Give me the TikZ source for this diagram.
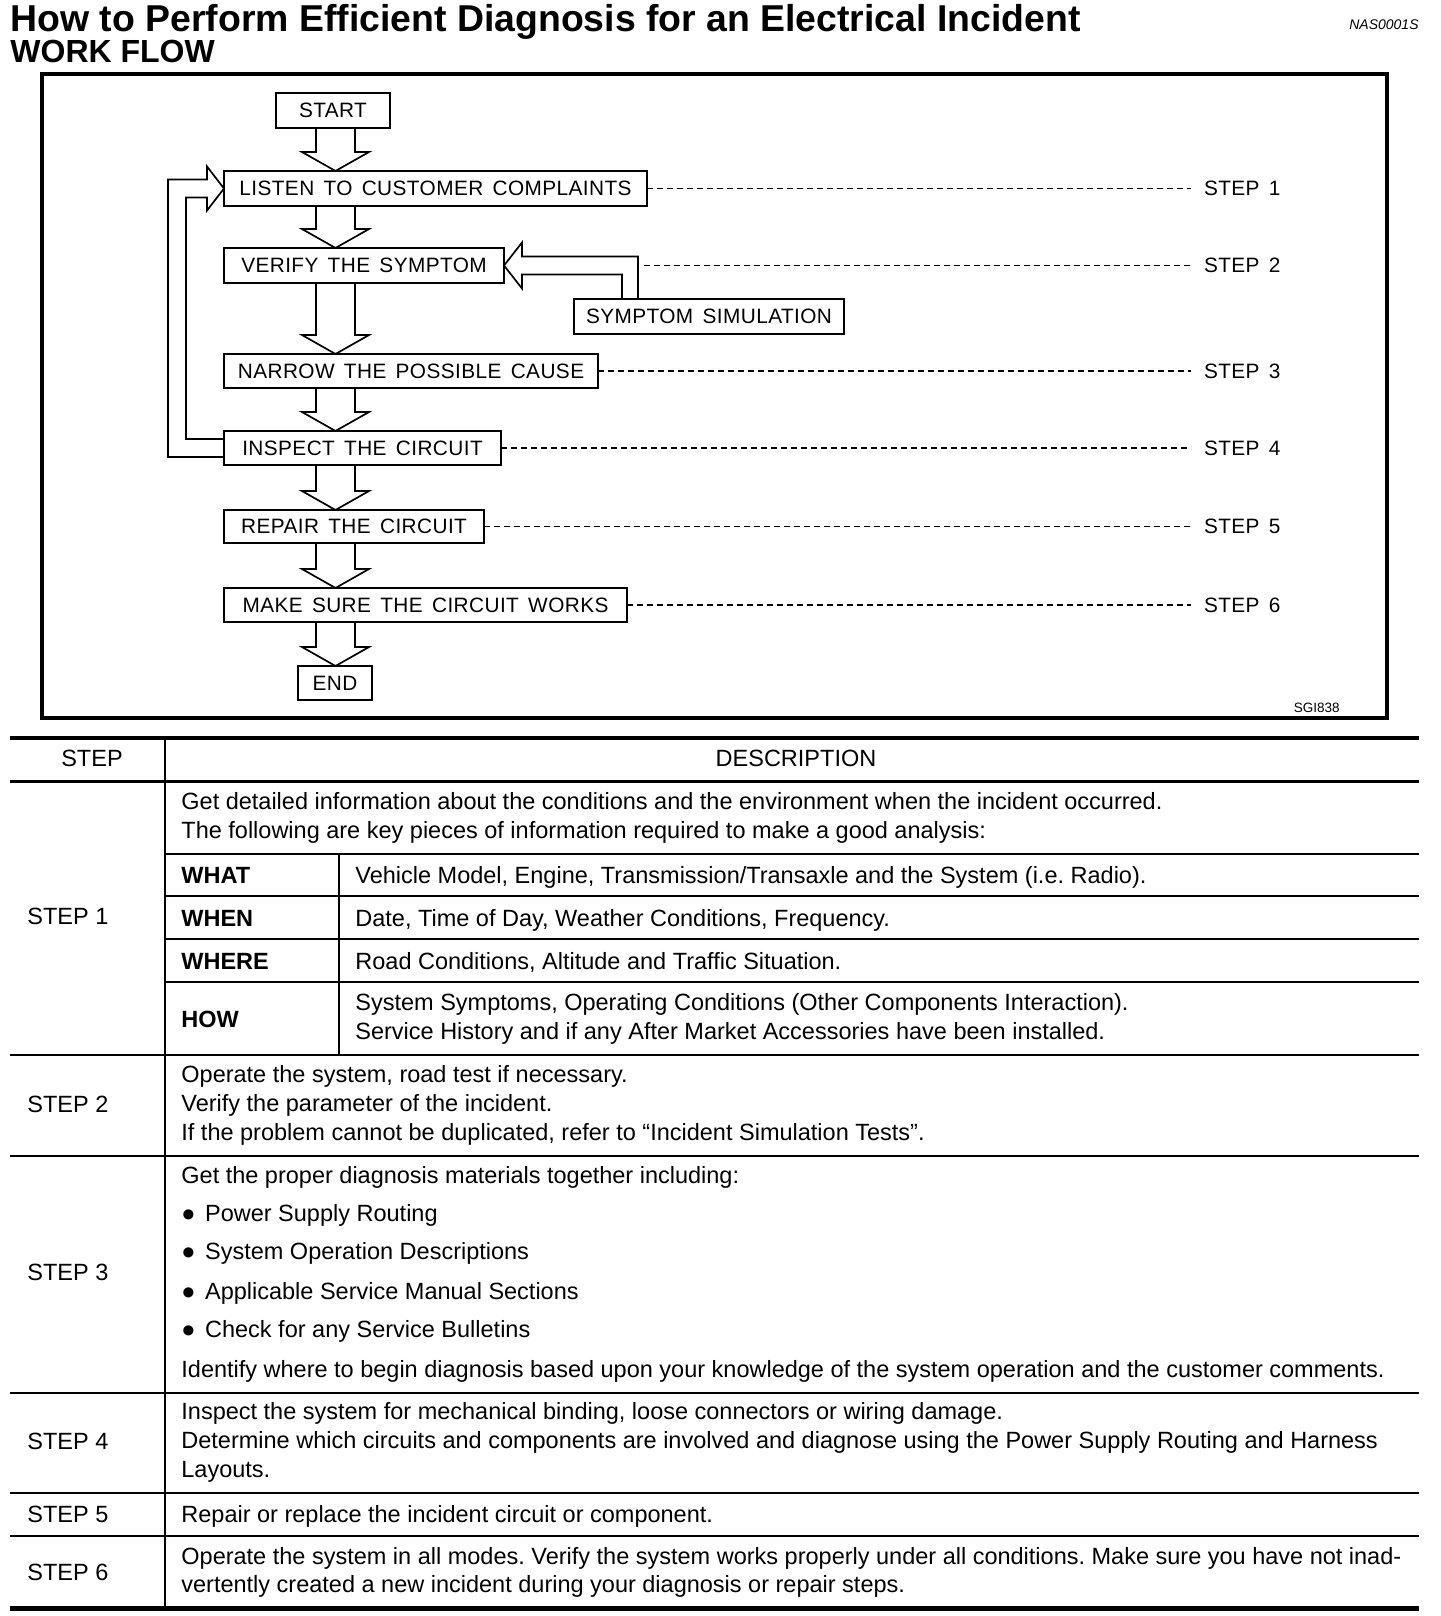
\documentclass[tikz,border=0pt]{standalone}
\usepackage{fontspec}
\setmainfont{Liberation Sans}
\newfontfamily\flowfont[LetterSpace=2,WordSpace=1.5]{Liberation Sans}
\usetikzlibrary{calc}
\frenchspacing
\tikzset{
  fbox/.style={draw, line width=1pt, rectangle, inner sep=0pt, outer sep=0pt, anchor=north west,
    font=\flowfont\fontsize{10.4pt}{12pt}\selectfont},
  flowline/.style={line width=0.85pt, line join=miter},
  steplbl/.style={anchor=west, inner sep=0pt, outer sep=0pt, font=\flowfont\fontsize{10.4pt}{12pt}\selectfont},
  dashline/.style={line width=0.7pt, dash pattern=on 3pt off 2pt, shorten >=6.5pt},
  tx/.style={anchor=base west, inner sep=0pt, font=\fontsize{11.75pt}{14pt}\selectfont},
  txb/.style={anchor=base west, inner sep=0pt, font=\bfseries\fontsize{11.75pt}{14pt}\selectfont},
  rule/.style={line width=1.25pt},
}
\newcommand\flowarrow[2]{%
  \draw[flowline] ($(ax |- #1.south)+(-19.5,0)$) -- ($(ax |- #2.north)+(-19.5,-19)$) -- ++(-14,0)
    -- (ax |- #2.north) -- ++(33.5,-19) -- ++(-14,0) -- ($(ax |- #1.south)+(19.5,0)$);}
\newcommand\bul{●\kern1.5pt\ }
\begin{document}
\frenchspacing
\begin{tikzpicture}[x=0.5pt,y=-0.5pt]
\useasboundingbox (0,0) rectangle (1440,1616);
\fill[white] (0,0) rectangle (1440,1616);

% headings
\node[anchor=base west, inner sep=0pt, font=\bfseries\fontsize{18.7pt}{22pt}\selectfont] (title) at (10,32) {How to Perform Efficient Diagnosis for an Electrical Incident};
\node[anchor=base west, inner sep=0pt, font=\bfseries\fontsize{16pt}{19pt}\selectfont] (wf) at (10,63) {WORK FLOW};
\node[anchor=base east, inner sep=0pt, font=\itshape\fontsize{7pt}{8pt}\selectfont] (nas) at (1419,30) {NAS0001S};

% frame
\draw[line width=2pt] (42,74) rectangle (1387,718);
\node[anchor=base east, inner sep=0pt, font=\fontsize{6.75pt}{8pt}\selectfont] (sgi) at (1340,712) {SGI838};

% flow boxes
\coordinate (ax) at (335.5,0);
\node[fbox, minimum width=57pt, minimum height=17.5pt] (start) at (276,93) {START};
\node[fbox, minimum width=211.5pt, minimum height=17.5pt] (listen) at (224,171) {LISTEN TO CUSTOMER COMPLAINTS};
\node[fbox, minimum width=140pt, minimum height=17.5pt] (verify) at (224,248) {VERIFY THE SYMPTOM};
\node[fbox, minimum width=135pt, minimum height=17.5pt] (symptom) at (574,299) {SYMPTOM SIMULATION};
\node[fbox, minimum width=187pt, minimum height=17pt] (narrow) at (224,354) {NARROW THE POSSIBLE CAUSE};
\node[fbox, minimum width=138.5pt, minimum height=17pt] (inspect) at (224,431) {INSPECT THE CIRCUIT};
\node[fbox, minimum width=130pt, minimum height=16.5pt] (repair) at (224,510) {REPAIR THE CIRCUIT};
\node[fbox, minimum width=201.5pt, minimum height=17pt] (make) at (224,588) {MAKE SURE THE CIRCUIT WORKS};
\node[fbox, minimum width=37pt, minimum height=17pt] (end) at (298,666) {END};

% block arrows
\flowarrow{start}{listen}
\flowarrow{listen}{verify}
\flowarrow{verify}{narrow}
\flowarrow{narrow}{inspect}
\flowarrow{inspect}{repair}
\flowarrow{repair}{make}
\flowarrow{make}{end}

% feedback loop inspect -> listen
\draw[flowline] ($(inspect.west)+(0,9)$) -- ++(-56,0) |- ($(listen.west)+(-17,-9)$) -- ++(0,-13)
  -- (listen.west) -- ++(-17,22) -- ++(0,-13) -| ($(inspect.west)+(-38,-9)$) -- ($(inspect.west)+(0,-9)$);

% symptom simulation -> verify
\coordinate (sxa) at (622,0);
\coordinate (sxb) at (638,0);
\draw[flowline] (sxa |- symptom.north) |- ($(verify.east)+(18,9)$) -- ++(0,14) -- (verify.east)
  -- ++(18,-23) -- ++(0,14) -| (sxb |- symptom.north);

% step labels and dashed leaders
\node[steplbl] (s1) at (1204,188.5) {STEP 1};
\node[steplbl] (s2) at (1204,265.5) {STEP 2};
\node[steplbl] (s3) at (1204,371) {STEP 3};
\node[steplbl] (s4) at (1204,448) {STEP 4};
\node[steplbl] (s5) at (1204,526.5) {STEP 5};
\node[steplbl] (s6) at (1204,605) {STEP 6};
\coordinate (d2start) at ($(sxb |- verify.east)+(6,0)$);
\draw[dashline] (listen.east) -- (s1.west);
\draw[dashline] (d2start) -- (s2.west);
\draw[dashline] (narrow.east) -- (s3.west);
\draw[dashline] (inspect.east) -- (s4.west);
\draw[dashline] (repair.east) -- (s5.west);
\draw[dashline] (make.east) -- (s6.west);

% table rules
\draw[line width=2pt] (10,738) -- (1419,738);
\draw[line width=1.5pt] (10,781) -- (1419,781);
\foreach \yy in {1055,1156,1393,1493,1536} \draw[rule] (10,\yy) -- (1419,\yy);
\draw[line width=2.5pt] (10,1608) -- (1419,1608);
\draw[line width=1pt] (165,738) -- (165,1608);
\draw[line width=1pt] (339,854) -- (339,1055);
\foreach \yy in {854,896,939,982} \draw[line width=1pt] (165,\yy) -- (1419,\yy);

% header
\node[anchor=base, inner sep=0pt, font=\fontsize{11.75pt}{14pt}\selectfont] (hstep) at (92,766.5) {STEP};
\node[anchor=base, inner sep=0pt, font=\fontsize{11.75pt}{14pt}\selectfont] (hdesc) at (796,766.5) {DESCRIPTION};

% step 1
\node[tx] (l1) at (27,924) {STEP 1};
\node[tx] (d1a) at (181,809) {Get detailed information about the conditions and the environment when the incident occurred.};
\node[tx] (d1b) at (181,838) {The following are key pieces of information required to make a good analysis:};
\node[txb] (what) at (181,883) {WHAT};
\node[tx] (whatd) at (355,883) {Vehicle Model, Engine, Transmission/Transaxle and the System (i.e. Radio).};
\node[txb] (when) at (181,926) {WHEN};
\node[tx] (whend) at (355,926) {Date, Time of Day, Weather Conditions, Frequency.};
\node[txb] (where) at (181,969) {WHERE};
\node[tx] (whered) at (355,969) {Road Conditions, Altitude and Traffic Situation.};
\node[txb] (how) at (181,1027) {HOW};
\node[tx] (howa) at (355,1010) {System Symptoms, Operating Conditions (Other Components Interaction).};
\node[tx] (howb) at (355,1039) {Service History and if any After Market Accessories have been installed.};

% step 2
\node[tx] (l2) at (27,1112) {STEP 2};
\node[tx] (d2a) at (181,1082) {Operate the system, road test if necessary.};
\node[tx] (d2b) at (181,1111) {Verify the parameter of the incident.};
\node[tx] (d2c) at (181,1140) {If the problem cannot be duplicated, refer to “Incident Simulation Tests”.};

% step 3
\node[tx] (l3) at (27,1280) {STEP 3};
\node[tx] (d3a) at (181,1183) {Get the proper diagnosis materials together including:};
\node[tx] (d3b) at (181,1221) {\bul Power Supply Routing};
\node[tx] (d3c) at (181,1259) {\bul System Operation Descriptions};
\node[tx] (d3d) at (181,1299) {\bul Applicable Service Manual Sections};
\node[tx] (d3e) at (181,1337) {\bul Check for any Service Bulletins};
\node[tx] (d3f) at (181,1377) {Identify where to begin diagnosis based upon your knowledge of the system operation and the customer comments.};

% step 4
\node[tx] (l4) at (27,1449) {STEP 4};
\node[tx] (d4a) at (181,1419) {Inspect the system for mechanical binding, loose connectors or wiring damage.};
\node[tx] (d4b) at (181,1448) {Determine which circuits and components are involved and diagnose using the Power Supply Routing and Harness};
\node[tx] (d4c) at (181,1477) {Layouts.};

% step 5
\node[tx] (l5) at (27,1522) {STEP 5};
\node[tx] (d5a) at (181,1522) {Repair or replace the incident circuit or component.};

% step 6
\node[tx] (l6) at (27,1580) {STEP 6};
\node[tx] (d6a) at (181,1564) {Operate the system in all modes. Verify the system works properly under all conditions. Make sure you have not inad-};
\node[tx] (d6b) at (181,1592) {vertently created a new incident during your diagnosis or repair steps.};
\end{tikzpicture}
\end{document}
